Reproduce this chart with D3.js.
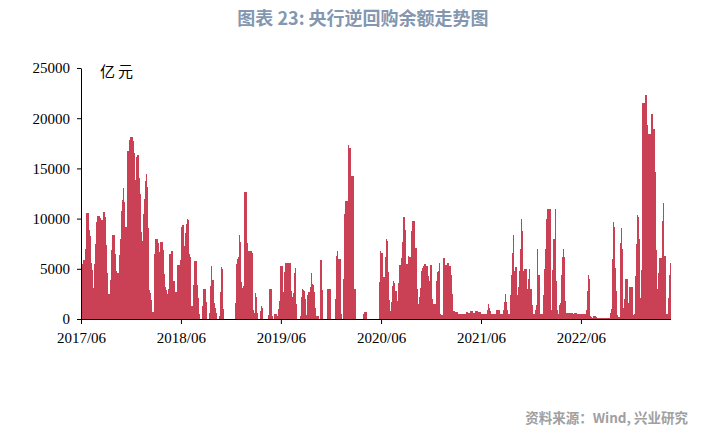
<!DOCTYPE html>
<html><head><meta charset="utf-8">
<script src="https://cdn.jsdelivr.net/npm/d3@7"></script>
<style>
html,body{margin:0;padding:0;background:#fff;}
svg{display:block;}
</style></head>
<body>
<svg id="chart" width="705" height="435"></svg>
<script>
// ---- DATA (亿元), roughly two readings per week, starting 2017/06 ----
const title = "图表 23: 央行逆回购余额走势图";
const unitLabel = "亿元";
const sourceText = "资料来源：Wind, 兴业研究";
const startDate = "2017-06-01";
const stepDays = 3.6525;
const yTicks = [0, 5000, 10000, 15000, 20000, 25000];
const xTickDates = ["2017-06-01","2018-06-01","2019-06-01","2020-06-01","2021-06-01","2022-06-01"];
const xTickLabels = ["2017/06","2018/06","2019/06","2020/06","2021/06","2022/06"];

const values2017 = [5450,5900,5900,6970,10550,10550,10550,8830,8270,5600,
4850,3050,5470,7470,9630,10260,10260,10260,10030,9900,
9900,10630,10630,10130,7370,4580,2490,2490,3880,6870,
8370,8370,8370,6440,4810,4580,4580,6370,7970,10760,
11850,13080,11680,9160,9160,16730,16730,17800,18100,18100,
18100,17730,16500,13840,16130,16300,16300,14080,12420,8700,
7800,10430,11950,13710,14410,13180,9030,2890,2560,1890,
670,670,6440,7970,7970,7970,7540,6700,7670,7670,
7670,6840,4480,3160,2890,2460,3020,6470,6470,6740,
6740,3780,3780,2690,2690,5350,5350,5350,5880,9130,
9360];
const values2018 = [9360,7270,8600,9490,9960,9860,6470,6140,1290,1290,
3350,5780,5780,5780,3350,2090,500,0,0,1290,
2990,2990,2990,1690,0,0,560,3290,5280,3880,
3880,1630,1100,560,0,0,330,2690,5150,4950,
1030,0,0,0,0,0,0,0,0,0,
0,0,1630,5480,6010,6140,8370,7670,3690,3120,
3300,12650,12650,12650,7570,6770,6770,6770,6770,6570,
900,560,2590,2190,560,0,0,800,1290,1100,
0,0,0,0,0,400,2990,2990,2990,330,
0,500,500,500,330,1000,1820,5280,5280,5280];
const values2019 = [2690,4680,5580,5580,5580,5580,5580,5580,2790,2190,
2590,4580,5080,1490,0,0,0,300,2190,2990,
2890,2790,1990,400,2390,2690,2690,3190,4580,3490,
3390,2690,1100,300,300,300,0,5880,5880,2890,
0,0,0,0,2990,2990,2990,2990,0,0,
0,0,1990,6270,6770,5980,5980,5980,500,0,
3980,10460,11750,11750,11750,17330,17030,17030,14240,14240,
14240,2990,2990,0,0,0,0,0,0,0,
500,700,700,700,0,0,0,0,0,0,
0,0,0,0,0,0,3690,6770,6570,6570];
const values2020 = [4150,4150,6140,7930,7770,4680,1890,800,1730,3290,
3780,3550,2790,2790,1790,3590,5350,5350,6040,7670,
10160,10160,8860,5480,5480,6270,6140,6140,8760,9760,
9760,9760,7070,7070,2990,1490,2190,3090,4780,5050,
5280,5480,5480,5280,5280,4280,3780,5350,5350,2020,
1460,1460,1460,3750,4710,4780,5580,460,360,360,
6040,6040,5350,5350,5580,5580,5310,5310,4350,2460,
800,800,660,660,660,460,460,460,460,460,
460,460,460,660,660,560,560,800,800,800,
600,600,800,800,800,660,660,660,460,460];
const values2021 = [500,500,500,500,900,1490,1100,800,500,500,
500,500,500,900,900,900,900,500,500,500,
900,1690,2490,1690,900,500,500,2390,4380,6570,
8370,4780,5180,5180,2390,3190,4780,6970,9960,8760,
4780,4980,4980,4980,2990,3980,4980,2990,2990,1390,
500,500,900,1390,6970,4380,4380,500,500,500,
2390,4980,6970,9960,10960,10960,10960,10960,900,4880,
7970,7970,10960,3780,900,500,1390,1590,4380,6180,
6970,6180,1790,600,600,600,600,600,600,600,
500,600,600,600,500,500,500,500,500,500];
const values2022 = [500,500,500,900,2790,4380,3980,300,200,100,
300,300,300,200,100,100,100,100,100,100,
100,100,100,100,100,100,100,600,1000,5980,
9660,9160,5080,2790,400,200,200,7570,9060,6970,
1100,1990,3980,3980,3980,1590,3190,3190,3190,3190,
400,500,4280,7470,10360,10160,7970,2090,4880,21510,
21510,21510,22310,22310,19320,18430,18430,18430,20420,20420,
18920,18920,14640,6870,2990,4580,6080,6080,6080,9760,
11550,6270,6270,500,500,2090,4380,5580];

// ---- BUILD ----
const allValues = [].concat(values2017, values2018, values2019, values2020, values2021, values2022);
const t0 = new Date(startDate + "T00:00:00");
const dayMs = 86400000;
const data = allValues.map((v, i) => ({date: new Date(t0.getTime() + i * stepDays * dayMs), value: v}));
const endDate = new Date(t0.getTime() + allValues.length * stepDays * dayMs);

const svg = d3.select("#chart");
const plotLeft = 82, plotBottom = 319, plotTop = 68;
const plotRight = plotLeft + allValues.length;

const x = d3.scaleTime().domain([t0, endDate]).range([plotLeft, plotRight]);
const y = d3.scaleLinear().domain([0, 25000]).range([plotBottom, plotTop]);

// bars
svg.append("g")
  .selectAll("rect")
  .data(data)
  .join("rect")
  .attr("x", d => x(d.date))
  .attr("width", d => x(new Date(d.date.getTime() + stepDays * dayMs)) - x(d.date) + 0.05)
  .attr("y", d => y(d.value))
  .attr("height", d => y(0) - y(d.value))
  .attr("fill", "#CA4155")
  .attr("shape-rendering", "crispEdges");

// y axis
const yAxis = svg.append("g")
  .attr("transform", `translate(${plotLeft - 1},0)`)
  .call(d3.axisLeft(y).tickValues(yTicks).tickFormat(d3.format("d")).tickSize(4).tickPadding(7).tickSizeOuter(0));
yAxis.selectAll("text").attr("font-family", "'Liberation Serif','Times New Roman',serif").attr("font-size", 15).attr("fill", "#000");
yAxis.selectAll("line,path").attr("stroke", "#000");

// x axis
const xAxis = svg.append("g")
  .attr("transform", `translate(-1,${plotBottom})`)
  .call(d3.axisBottom(x).tickValues(xTickDates.map(s => new Date(s + "T00:00:00")))
    .tickFormat((d, i) => xTickLabels[i]).tickSize(5).tickPadding(8).tickSizeOuter(0));
xAxis.select(".domain").remove();
xAxis.selectAll("text").attr("font-family", "'Liberation Serif','Times New Roman',serif").attr("font-size", 15).attr("fill", "#000");
xAxis.selectAll("line").attr("stroke", "#000");
svg.append("line")
  .attr("x1", plotLeft - 1).attr("x2", plotRight)
  .attr("y1", plotBottom + 0.5).attr("y2", plotBottom + 0.5)
  .attr("stroke", "#000");

// unit label
svg.append("text")
  .attr("x", 100).attr("y", 77)
  .attr("font-family", "'Noto Sans CJK SC',sans-serif")
  .attr("font-size", 15)
  .attr("letter-spacing", 3)
  .attr("fill", "#000")
  .text(unitLabel);

// title
svg.append("text")
  .attr("x", 363).attr("y", 25)
  .attr("text-anchor", "middle")
  .attr("font-family", "'Noto Sans CJK SC',sans-serif")
  .attr("font-weight", "bold")
  .attr("font-size", 18)
  .attr("fill", "#8497B0")
  .text(title);

// source
svg.append("text")
  .attr("x", 688).attr("y", 423)
  .attr("text-anchor", "end")
  .attr("font-family", "'Noto Sans CJK SC',sans-serif")
  .attr("font-weight", "bold")
  .attr("font-size", 13.5)
  .attr("fill", "#A0A0A0")
  .text(sourceText);
</script>
</body></html>
